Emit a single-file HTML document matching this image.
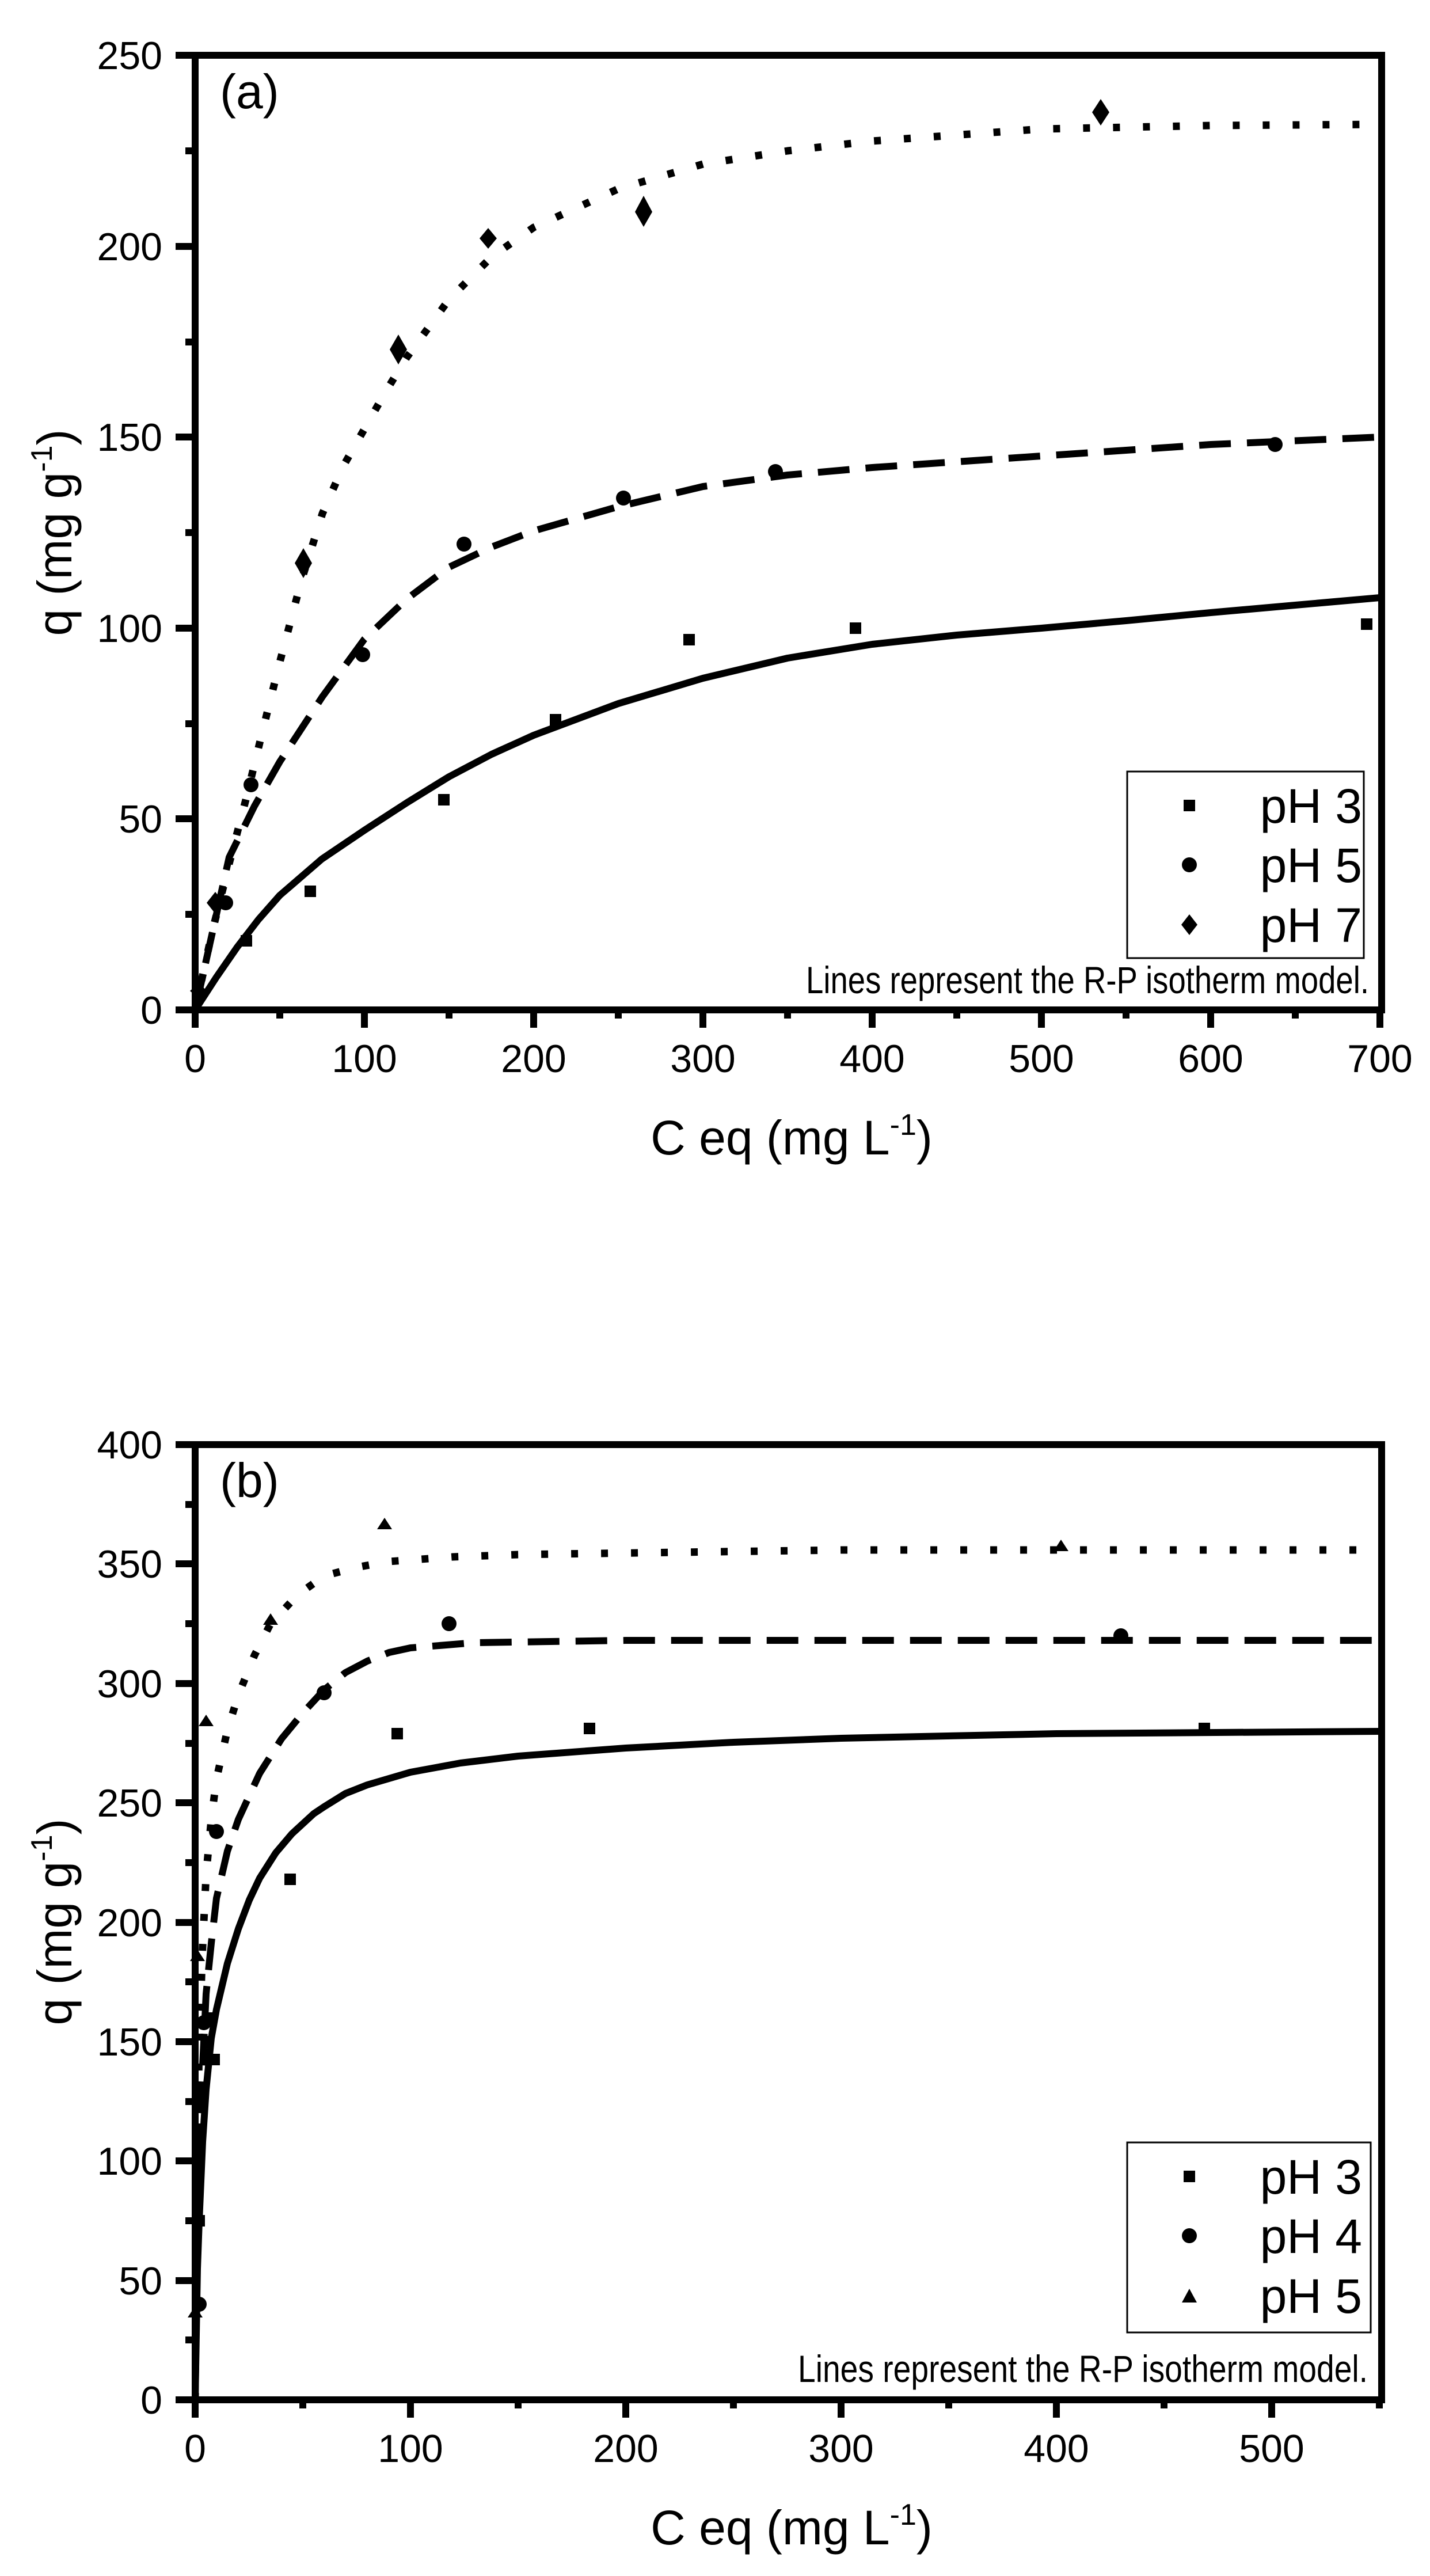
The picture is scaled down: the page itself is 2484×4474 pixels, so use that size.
<!DOCTYPE html>
<html><head><meta charset="utf-8"><style>
html,body{margin:0;padding:0;background:#fff}
svg{display:block}
text{font-family:"Liberation Sans",Arial,sans-serif;fill:#000}
</style></head><body>
<svg width="2484" height="4474" viewBox="0 0 2484 4474" xmlns="http://www.w3.org/2000/svg">
<defs>
<clipPath id="ca"><rect x="339" y="96" width="2061" height="1658"/></clipPath>
<clipPath id="cb"><rect x="339" y="2509" width="2061" height="1659"/></clipPath>
</defs>

<!-- ============ PLOT A ============ -->
<g id="A">
<g stroke="#000" stroke-width="12">
<line x1="339" y1="1754" x2="339" y2="1785"/><line x1="633" y1="1754" x2="633" y2="1785"/>
<line x1="927" y1="1754" x2="927" y2="1785"/><line x1="1221" y1="1754" x2="1221" y2="1785"/>
<line x1="1515" y1="1754" x2="1515" y2="1785"/><line x1="1809" y1="1754" x2="1809" y2="1785"/>
<line x1="2103" y1="1754" x2="2103" y2="1785"/><line x1="2397" y1="1754" x2="2397" y2="1785"/>
<line x1="486" y1="1754" x2="486" y2="1769"/><line x1="780" y1="1754" x2="780" y2="1769"/>
<line x1="1074" y1="1754" x2="1074" y2="1769"/><line x1="1368" y1="1754" x2="1368" y2="1769"/>
<line x1="1662" y1="1754" x2="1662" y2="1769"/><line x1="1956" y1="1754" x2="1956" y2="1769"/>
<line x1="2250" y1="1754" x2="2250" y2="1769"/>
<line x1="305" y1="1754" x2="339" y2="1754"/><line x1="305" y1="1422" x2="339" y2="1422"/>
<line x1="305" y1="1091" x2="339" y2="1091"/><line x1="305" y1="759" x2="339" y2="759"/>
<line x1="305" y1="428" x2="339" y2="428"/><line x1="305" y1="96" x2="339" y2="96"/>
<line x1="322" y1="1588" x2="339" y2="1588"/><line x1="322" y1="1257" x2="339" y2="1257"/>
<line x1="322" y1="925" x2="339" y2="925"/><line x1="322" y1="594" x2="339" y2="594"/>
<line x1="322" y1="262" x2="339" y2="262"/>
</g>
<rect x="339" y="96" width="2061" height="1658" fill="none" stroke="#000" stroke-width="12"/>
<g font-size="68" text-anchor="middle">
<text x="339" y="1862">0</text><text x="633" y="1862">100</text><text x="927" y="1862">200</text>
<text x="1221" y="1862">300</text><text x="1515" y="1862">400</text><text x="1809" y="1862">500</text>
<text x="2103" y="1862">600</text><text x="2397" y="1862">700</text>
</g>
<g font-size="68" text-anchor="end">
<text x="282" y="1778">0</text><text x="282" y="1446">50</text><text x="282" y="1115">100</text>
<text x="282" y="783">150</text><text x="282" y="452">200</text><text x="282" y="120">250</text>
</g>
<text x="1375" y="2005" font-size="84" text-anchor="middle">C eq (mg L<tspan font-size="52" dy="-34">-1</tspan><tspan dy="34">)</tspan></text>
<text transform="translate(124,925) rotate(-90)" font-size="84" text-anchor="middle">q (mg g<tspan font-size="52" dy="-34">-1</tspan><tspan dy="34">)</tspan></text>
<text x="382" y="188" font-size="84">(a)</text>

<g clip-path="url(#ca)" fill="none" stroke="#000" stroke-width="12" stroke-linejoin="round">
<polyline points="339,1754 376,1697 412,1645 449,1597 486,1555 559,1492 633,1442 707,1394 780,1349 854,1310 927,1277 1074,1222 1221,1178 1368,1143 1515,1119 1662,1103 1809,1091 1956,1078 2103,1064 2250,1051 2397,1038"/>
<polyline stroke-dasharray="55,28" points="339,1754 398,1489 442,1400 486,1323 560,1210 633,1110 707,1040 780,985 854,950 927,922 1074,880 1221,845 1368,825 1515,812 1809,792 2103,772 2397,759"/>
<polyline stroke-dasharray="12,40" stroke-width="13" points="339,1754 368,1621 398,1500 427,1389 456,1270 486,1150 523,1010 560,892 596,810 633,745 670,680 707,620 780,520 854,446 927,395 1074,328 1221,285 1368,262 1515,245 1809,224 2103,218 2397,216"/>
</g>
<g fill="#000">
<rect x="418" y="1624" width="20" height="20"/><rect x="529" y="1538" width="20" height="20"/>
<rect x="761" y="1379" width="20" height="20"/><rect x="955" y="1240" width="20" height="20"/>
<rect x="1187" y="1101" width="20" height="20"/><rect x="1476" y="1081" width="20" height="20"/>
<rect x="2364" y="1074" width="20" height="20"/>
<circle cx="392" cy="1568" r="13"/><circle cx="436" cy="1363" r="13"/><circle cx="630" cy="1137" r="13"/>
<circle cx="806" cy="945" r="13"/><circle cx="1083" cy="865" r="13"/><circle cx="1347" cy="819" r="13"/>
<circle cx="2215" cy="772" r="13"/>
<polygon points="345,1708 360,1721 345,1734 330,1721"/>
<polygon points="374,1549 389,1568 374,1587 359,1568"/>
<polygon points="527,952 542,978 527,1004 512,978"/>
<polygon points="692,581 707,607 692,633 677,607"/>
<polygon points="848,396 863,414 848,432 833,414"/>
<polygon points="1118,340 1133,368 1118,394 1103,368"/>
<polygon points="1912,172 1927,195 1912,218 1897,195"/>
</g>
<rect x="1958" y="1340" width="411" height="324" fill="#fff" stroke="#000" stroke-width="3"/>
<rect x="2056" y="1389" width="20" height="20" fill="#000"/>
<circle cx="2066" cy="1502" r="13" fill="#000"/>
<polygon points="2066,1588 2080,1606 2066,1624 2052,1606" fill="#000"/>
<g font-size="84" text-anchor="end">
<text x="2366" y="1429">pH 3</text><text x="2366" y="1532">pH 5</text><text x="2366" y="1636">pH 7</text>
</g>
<text x="2378" y="1725" font-size="66" text-anchor="end" textLength="978" lengthAdjust="spacingAndGlyphs">Lines represent the R-P isotherm model.</text>
</g>

<!-- ============ PLOT B ============ -->
<g id="B">
<g stroke="#000" stroke-width="12">
<line x1="339" y1="4168" x2="339" y2="4199"/><line x1="713" y1="4168" x2="713" y2="4199"/>
<line x1="1087" y1="4168" x2="1087" y2="4199"/><line x1="1461" y1="4168" x2="1461" y2="4199"/>
<line x1="1835" y1="4168" x2="1835" y2="4199"/><line x1="2209" y1="4168" x2="2209" y2="4199"/>
<line x1="526" y1="4168" x2="526" y2="4183"/><line x1="900" y1="4168" x2="900" y2="4183"/>
<line x1="1274" y1="4168" x2="1274" y2="4183"/><line x1="1648" y1="4168" x2="1648" y2="4183"/>
<line x1="2022" y1="4168" x2="2022" y2="4183"/><line x1="2396" y1="4168" x2="2396" y2="4183"/>
<line x1="305" y1="4168" x2="339" y2="4168"/><line x1="305" y1="3961" x2="339" y2="3961"/>
<line x1="305" y1="3753" x2="339" y2="3753"/><line x1="305" y1="3546" x2="339" y2="3546"/>
<line x1="305" y1="3339" x2="339" y2="3339"/><line x1="305" y1="3131" x2="339" y2="3131"/>
<line x1="305" y1="2924" x2="339" y2="2924"/><line x1="305" y1="2716" x2="339" y2="2716"/>
<line x1="305" y1="2509" x2="339" y2="2509"/>
<line x1="322" y1="4064" x2="339" y2="4064"/><line x1="322" y1="3857" x2="339" y2="3857"/>
<line x1="322" y1="3650" x2="339" y2="3650"/><line x1="322" y1="3442" x2="339" y2="3442"/>
<line x1="322" y1="3235" x2="339" y2="3235"/><line x1="322" y1="3028" x2="339" y2="3028"/>
<line x1="322" y1="2820" x2="339" y2="2820"/><line x1="322" y1="2613" x2="339" y2="2613"/>
</g>
<rect x="339" y="2509" width="2061" height="1659" fill="none" stroke="#000" stroke-width="12"/>
<g font-size="68" text-anchor="middle">
<text x="339" y="4276">0</text><text x="713" y="4276">100</text><text x="1087" y="4276">200</text>
<text x="1461" y="4276">300</text><text x="1835" y="4276">400</text><text x="2209" y="4276">500</text>
</g>
<g font-size="68" text-anchor="end">
<text x="282" y="4192">0</text><text x="282" y="3985">50</text><text x="282" y="3777">100</text>
<text x="282" y="3570">150</text><text x="282" y="3363">200</text><text x="282" y="3155">250</text>
<text x="282" y="2948">300</text><text x="282" y="2740">350</text><text x="282" y="2533">400</text>
</g>
<text x="1375" y="4419" font-size="84" text-anchor="middle">C eq (mg L<tspan font-size="52" dy="-34">-1</tspan><tspan dy="34">)</tspan></text>
<text transform="translate(124,3338) rotate(-90)" font-size="84" text-anchor="middle">q (mg g<tspan font-size="52" dy="-34">-1</tspan><tspan dy="34">)</tspan></text>
<text x="382" y="2600" font-size="84">(b)</text>

<g clip-path="url(#cb)" fill="none" stroke="#000" stroke-width="12" stroke-linejoin="round">
<polyline points="339,4168 343,3940 346,3857 352,3720 358,3629 367,3540 376,3490 395,3410 414,3350 433,3300 451,3262 479,3218 507,3185 545,3150 563,3138 600,3115 638,3100 713,3078 800,3062 900,3050 1087,3036 1274,3026 1461,3019 1835,3011 2396,3007"/>
<polyline stroke-dasharray="55,28" points="339,4168 344,3800 350,3629 358,3463 367,3375 376,3297 395,3215 414,3160 451,3080 489,3020 526,2975 563,2935 600,2905 638,2885 676,2870 713,2862 825,2853 1087,2849 2396,2849"/>
<polyline stroke-dasharray="12,40" stroke-width="13" points="339,4168 342,3800 346,3546 352,3380 358,3256 367,3160 376,3090 395,3005 414,2944 442,2875 470,2820 517,2770 563,2737 620,2722 676,2712 787,2704 900,2700 1461,2692 2396,2692"/>
</g>
<g fill="#000">
<rect x="336" y="3847" width="20" height="20"/><rect x="341" y="3640" width="20" height="20"/>
<rect x="348" y="3536" width="20" height="20"/><rect x="355" y="3495" width="20" height="20"/>
<rect x="362" y="3567" width="20" height="20"/>
<rect x="494" y="3254" width="20" height="20"/><rect x="680" y="3001" width="20" height="20"/>
<rect x="1014" y="2992" width="20" height="20"/><rect x="2082" y="2992" width="20" height="20"/>
<circle cx="346" cy="4002" r="13"/><circle cx="354" cy="3513" r="13"/><circle cx="376" cy="3181" r="13"/>
<circle cx="563" cy="2940" r="13"/><circle cx="780" cy="2820" r="13"/><circle cx="1947" cy="2841" r="13"/>
<polygon points="343,3386 356,3406 330,3406"/>
<polygon points="358,2978 371,2998 345,2998"/>
<polygon points="470,2802 483,2822 457,2822"/>
<polygon points="668,2636 681,2656 655,2656"/>
<polygon points="1843,2674 1856,2694 1830,2694"/>
<polygon points="339,4005 352,4025 326,4025"/>
</g>
<rect x="1958" y="3721" width="423" height="330" fill="#fff" stroke="#000" stroke-width="3"/>
<rect x="2056" y="3770" width="20" height="20" fill="#000"/>
<circle cx="2066" cy="3883" r="13" fill="#000"/>
<polygon points="2066,3975 2079,3999 2053,3999" fill="#000"/>
<g font-size="84" text-anchor="end">
<text x="2366" y="3810">pH 3</text><text x="2366" y="3913">pH 4</text><text x="2366" y="4017">pH 5</text>
</g>
<text x="2376" y="4137" font-size="66" text-anchor="end" textLength="990" lengthAdjust="spacingAndGlyphs">Lines represent the R-P isotherm model.</text>
</g>
</svg>
</body></html>
